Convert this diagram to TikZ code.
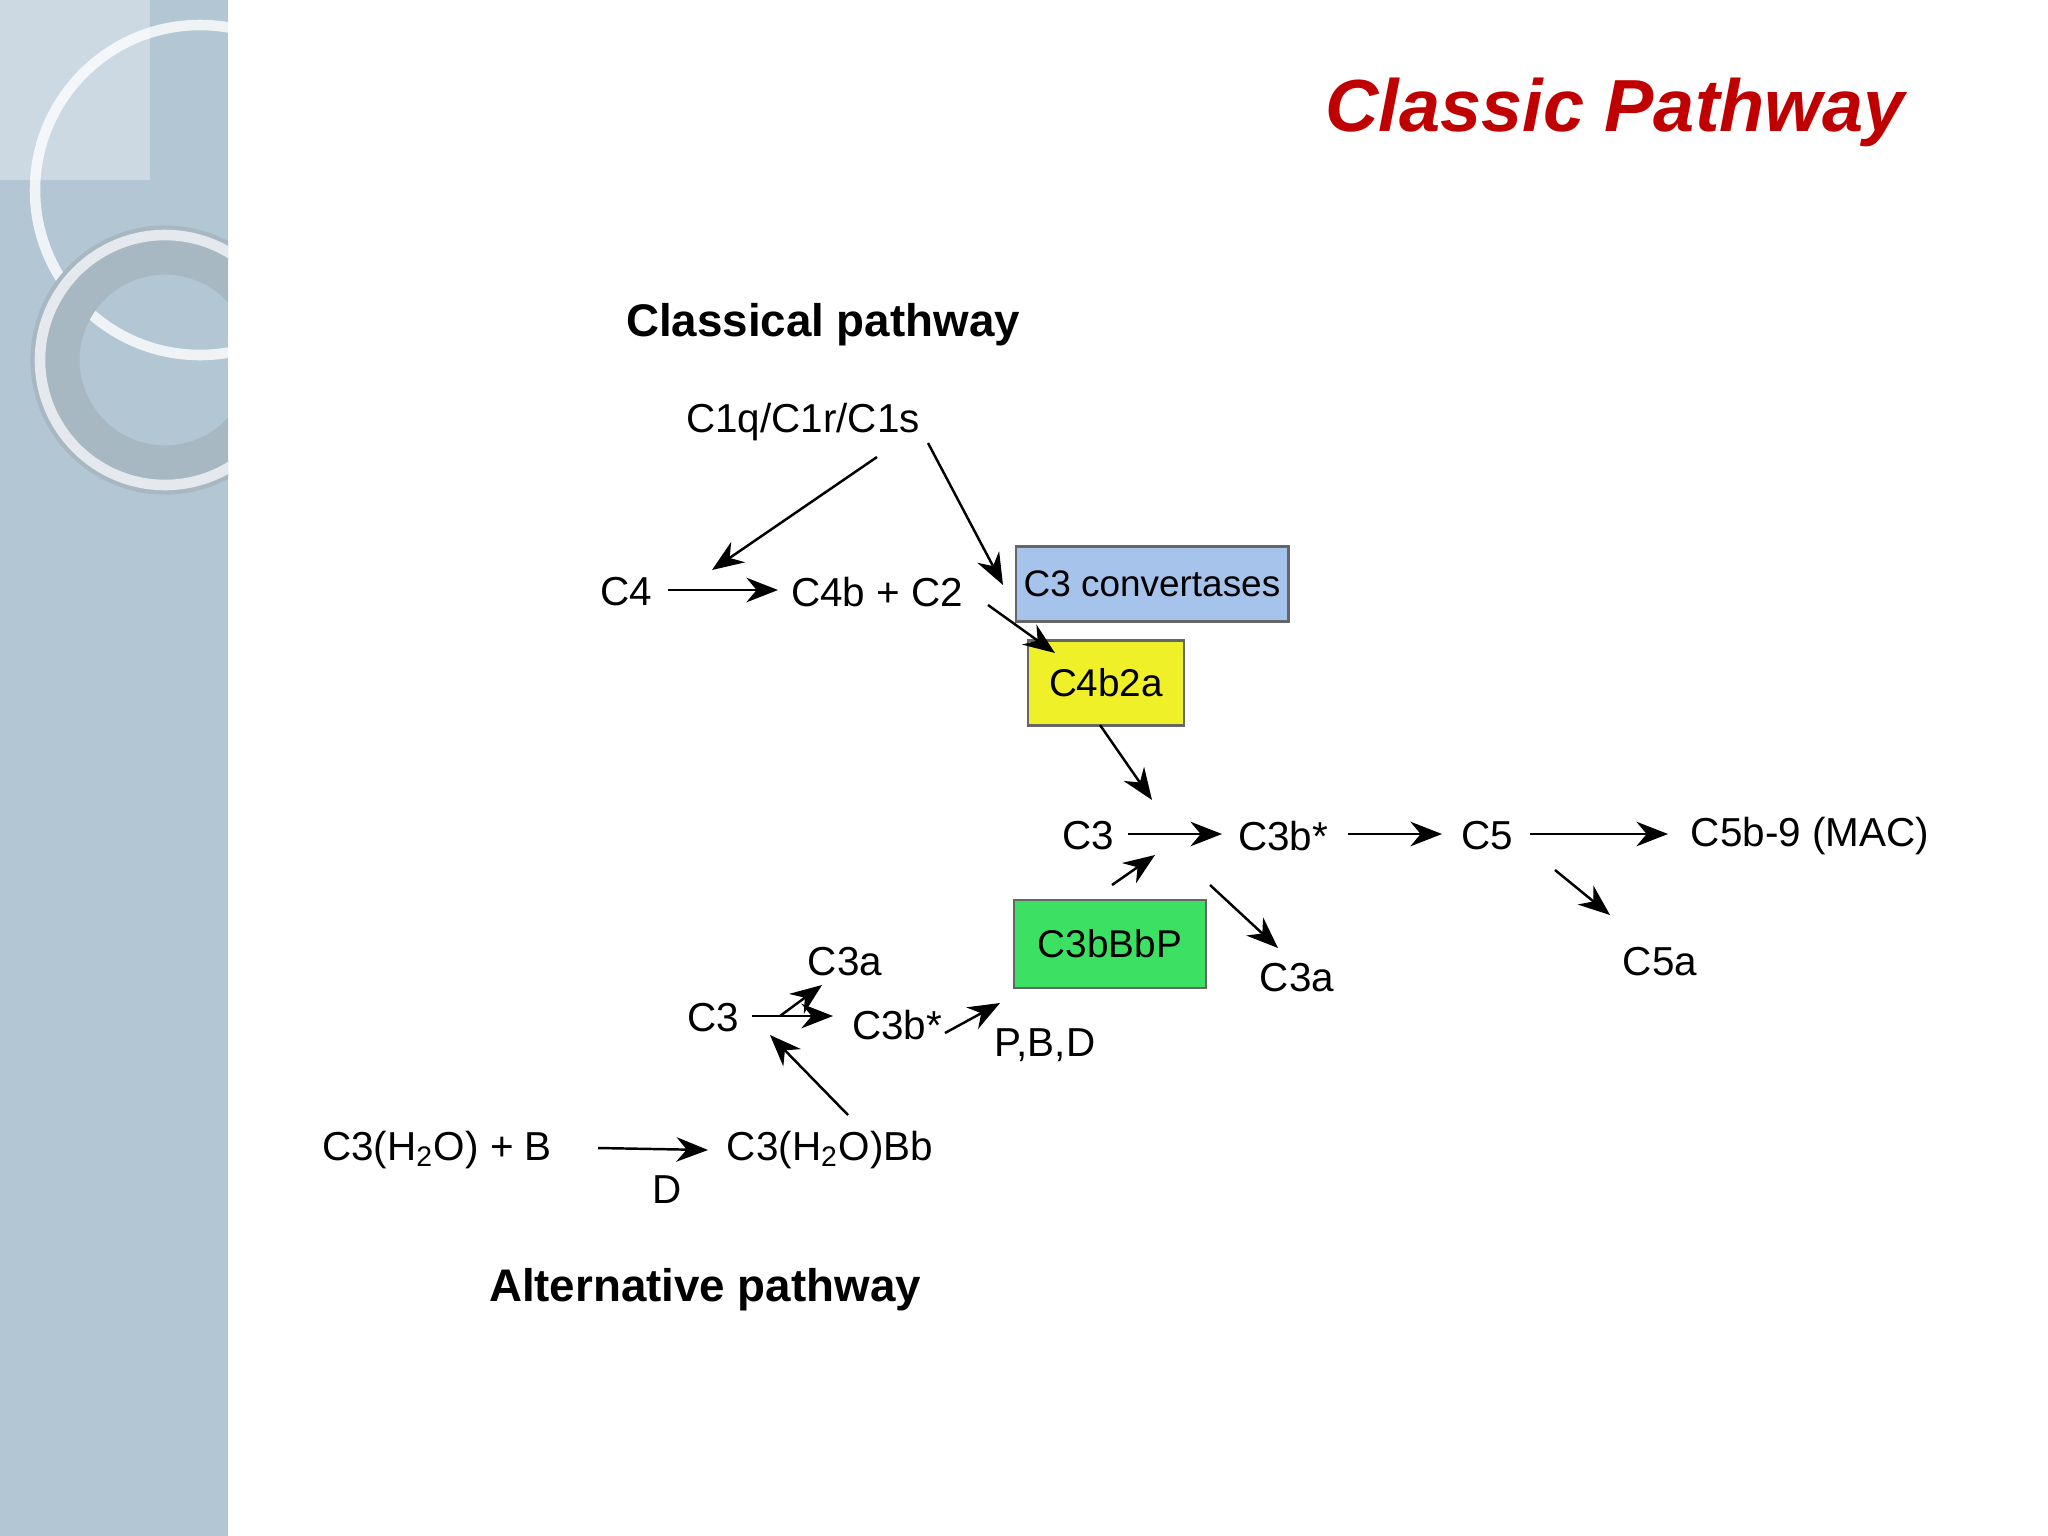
\documentclass[tikz,border=0pt]{standalone}
\usepackage{fontspec}
\setmainfont{Liberation Sans}
\usetikzlibrary{arrows.meta}
\definecolor{side}{RGB}{178,198,212}
\definecolor{ttl}{RGB}{192,0,0}
\definecolor{cvb}{RGB}{165,195,235}
\definecolor{ylw}{RGB}{240,240,40}
\definecolor{grn}{RGB}{60,225,100}
\begin{document}
\begin{tikzpicture}[x=0.01cm,y=-0.01cm,
  lbl/.style={font=\fontsize{11.5}{14}\selectfont,inner sep=1pt},
  hd/.style={font=\fontsize{13}{16}\selectfont\bfseries},
  bx/.style={draw=gray!80!black,line width=0.8pt,inner sep=2pt,font=\fontsize{11}{13}\selectfont},
  ar/.style={-{Stealth[length=9pt,width=7pt]},line width=0.7pt}]
\useasboundingbox (0,0) rectangle (2048,1536);
\fill[white] (0,0) rectangle (2048,1536);
\fill[side] (0,0) rectangle (228,1536);
\begin{scope}
\clip (0,0) rectangle (228,1536);
\fill[white,opacity=0.35] (0,0) rectangle (150,180);
\draw[white,line width=3pt,opacity=0.8] (200,190) circle (165);
\draw[side!80!gray,line width=14pt] (165,360) circle (110);
\draw[white,line width=3pt,opacity=0.7] (165,360) circle (125);
\end{scope}
\node[font=\fontsize{21}{24}\selectfont\bfseries\itshape,text=ttl] (title) at (1615,112) {Classic Pathway};
\node[hd] (cph) at (823,325) {Classical pathway};
\node[lbl] (c1q) at (803,422) {C1q/C1r/C1s};
\node[lbl] (c4) at (626,592) {C4};
\node[lbl] (c4b) at (877,592) {C4b + C2};
\node[bx,fill=cvb,minimum width=2.72cm,minimum height=0.75cm,font=\fontsize{10.5}{13}\selectfont] (conv) at (1152,584) {C3 convertases};
\node[bx,fill=ylw,minimum width=1.56cm,minimum height=0.85cm] (c4b2a) at (1106,683) {C4b2a};
\node[lbl] (c3) at (1088,836) {C3};
\node[lbl] (c3b) at (1283,836) {C3b*};
\node[lbl] (c5) at (1487,836) {C5};
\node[lbl] (mac) at (1810,836) {C5b-9 (MAC)};
\node[bx,fill=grn,minimum width=1.92cm,minimum height=0.88cm] (bbp) at (1110,944) {C3bBbP};
\node[lbl] (c3a) at (1297,978) {C3a};
\node[lbl] (c5a) at (1660,962) {C5a};
\node[lbl] (lc3) at (713,1018) {C3};
\node[lbl] (lc3a) at (845,962) {C3a};
\node[lbl] (lc3b) at (897,1025) {C3b*};
\node[lbl] (pbd) at (1045,1045) {P,B,D};
\node[lbl] (h2ob) at (437,1150) {C3(H\textsubscript{2}O) + B};
\node[lbl] (h2obb) at (830,1150) {C3(H\textsubscript{2}O)Bb};
\node[lbl] (d) at (667,1190) {D};
\node[hd] (aph) at (705,1290) {Alternative pathway};
\coordinate (a1) at (877,457); \coordinate (a2) at (712,570);
\coordinate (b1) at (928,443); \coordinate (b2) at (1003,585);
\coordinate (c1) at (668,590); \coordinate (c2) at (778,590);
\coordinate (e1) at (988,605); \coordinate (e2) at (1055,653);
\coordinate (f1) at (1100,725); \coordinate (f2) at (1152,800);
\coordinate (n1) at (1128,834); \coordinate (n2) at (1222,834);
\coordinate (o1) at (1348,834); \coordinate (o2) at (1442,834);
\coordinate (p1) at (1530,834); \coordinate (p2) at (1668,834);
\coordinate (g1) at (1112,885); \coordinate (g2) at (1155,855);
\coordinate (h1) at (1210,885); \coordinate (h2) at (1278,948);
\coordinate (i1) at (1555,870); \coordinate (i2) at (1610,915);
\coordinate (q1) at (752,1016); \coordinate (q2) at (833,1016);
\coordinate (j1) at (780,1016); \coordinate (j2) at (822,985);
\coordinate (k1) at (945,1033); \coordinate (k2) at (1000,1003);
\coordinate (l1) at (848,1115); \coordinate (l2) at (770,1035);
\coordinate (m1) at (598,1148); \coordinate (m2) at (708,1150);
\draw[ar] (a1) -- (a2);
\draw[ar] (b1) -- (b2);
\draw[ar] (c1) -- (c2);
\draw[ar] (e1) -- (e2);
\draw[ar] (f1) -- (f2);
\draw[ar] (n1) -- (n2);
\draw[ar] (o1) -- (o2);
\draw[ar] (p1) -- (p2);
\draw[ar] (g1) -- (g2);
\draw[ar] (h1) -- (h2);
\draw[ar] (i1) -- (i2);
\draw[ar] (q1) -- (q2);
\draw[ar] (j1) -- (j2);
\draw[ar] (k1) -- (k2);
\draw[ar] (l1) -- (l2);
\draw[ar] (m1) -- (m2);
\end{tikzpicture}
\end{document}
